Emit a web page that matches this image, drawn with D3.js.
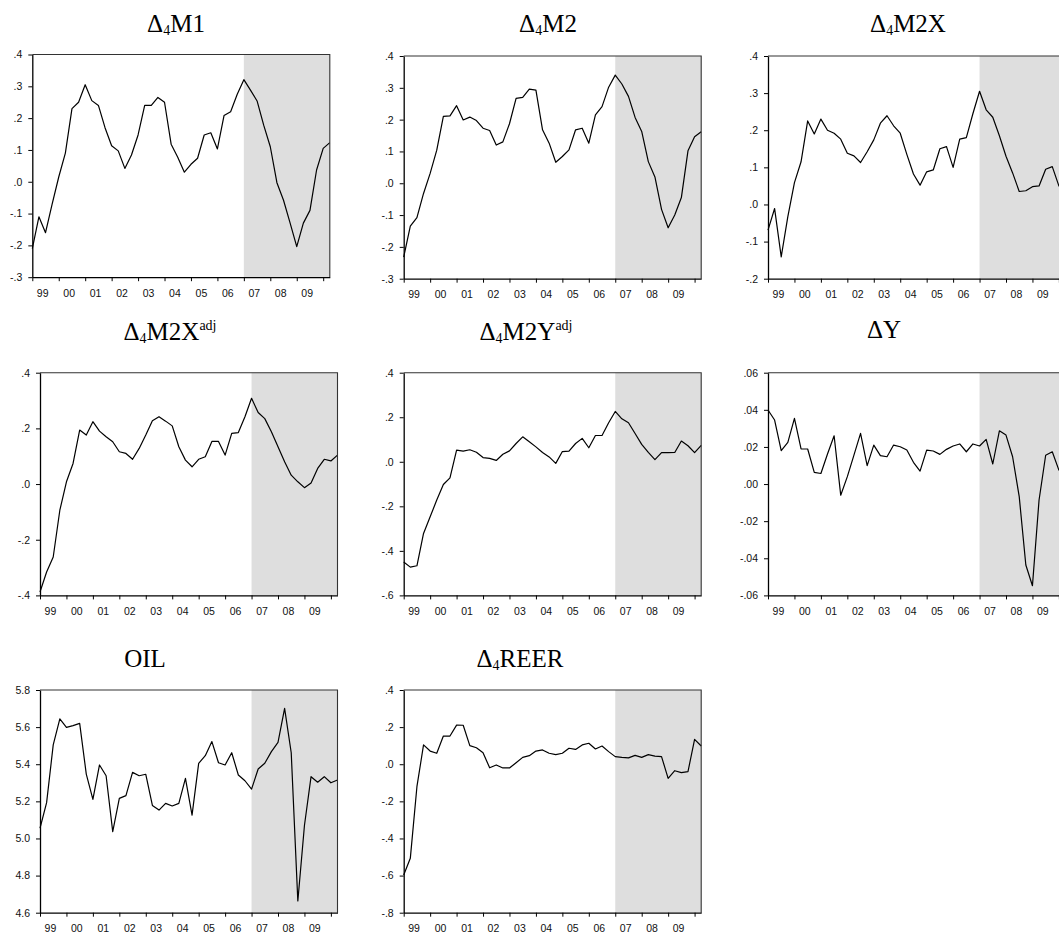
<!DOCTYPE html>
<html>
<head>
<meta charset="utf-8">
<script src="https://cdn.jsdelivr.net/npm/d3@7"></script>
<style>
  body { margin: 0; background: #fff; }
  svg { display: block; }
  .tick text { font-family: "Liberation Sans", Arial, sans-serif; font-size: 10.5px; fill: #111; }
  .title { font-family: "Liberation Serif", "Times New Roman", serif; font-size: 25px; fill: #000; }
</style>
</head>
<body>
<div id="viz"></div>
<script>
// quarterly sample, 1999Q1 - 2010Q2
const quarters = [
  '1999Q1', '1999Q2', '1999Q3', '1999Q4', '2000Q1', '2000Q2', '2000Q3', '2000Q4',
  '2001Q1', '2001Q2', '2001Q3', '2001Q4', '2002Q1', '2002Q2', '2002Q3', '2002Q4',
  '2003Q1', '2003Q2', '2003Q3', '2003Q4', '2004Q1', '2004Q2', '2004Q3', '2004Q4',
  '2005Q1', '2005Q2', '2005Q3', '2005Q4', '2006Q1', '2006Q2', '2006Q3', '2006Q4',
  '2007Q1', '2007Q2', '2007Q3', '2007Q4', '2008Q1', '2008Q2', '2008Q3', '2008Q4',
  '2009Q1', '2009Q2', '2009Q3', '2009Q4', '2010Q1', '2010Q2'
];
const shadeFrom = '2007Q1';
const yearLabels = ['99', '00', '01', '02', '03', '04', '05', '06', '07', '08', '09'];

const m1 = [-0.21, -0.11, -0.16, -0.07, 0.015, 0.09, 0.23, 0.25, 0.305, 0.255, 0.24, 0.17,
  0.113, 0.097, 0.042, 0.084, 0.147, 0.24, 0.24, 0.265, 0.25, 0.118, 0.077, 0.03,
  0.055, 0.074, 0.147, 0.154, 0.103, 0.208, 0.22, 0.275, 0.321, 0.288, 0.254, 0.178,
  0.11, -0.003, -0.058, -0.13, -0.204, -0.13, -0.09, 0.037, 0.105, 0.123];
const m2 = [-0.232, -0.135, -0.108, -0.032, 0.031, 0.104, 0.21, 0.212, 0.244, 0.199, 0.208, 0.197,
  0.173, 0.166, 0.12, 0.13, 0.187, 0.267, 0.27, 0.296, 0.293, 0.168, 0.126, 0.066,
  0.084, 0.105, 0.168, 0.173, 0.126, 0.215, 0.241, 0.302, 0.34, 0.312, 0.273, 0.207,
  0.163, 0.068, 0.02, -0.082, -0.14, -0.1, -0.045, 0.102, 0.146, 0.162];
const m2x = [-0.069, -0.011, -0.141, -0.033, 0.059, 0.115, 0.225, 0.19, 0.23, 0.2, 0.192, 0.176,
  0.138, 0.131, 0.113, 0.142, 0.174, 0.219, 0.239, 0.212, 0.192, 0.135, 0.082, 0.052,
  0.088, 0.093, 0.15, 0.156, 0.1, 0.176, 0.18, 0.245, 0.305, 0.255, 0.235, 0.185,
  0.13, 0.085, 0.035, 0.037, 0.048, 0.05, 0.095, 0.102, 0.05, 0.04];
const m2xAdj = [-0.388, -0.316, -0.262, -0.094, 0.008, 0.074, 0.194, 0.176, 0.224, 0.19, 0.17, 0.152,
  0.116, 0.11, 0.089, 0.128, 0.176, 0.227, 0.242, 0.226, 0.209, 0.134, 0.086, 0.062,
  0.089, 0.098, 0.153, 0.153, 0.104, 0.182, 0.185, 0.242, 0.308, 0.257, 0.235, 0.188,
  0.134, 0.08, 0.032, 0.008, -0.013, 0.004, 0.056, 0.089, 0.083, 0.104];
const m2yAdj = [-0.45, -0.473, -0.467, -0.322, -0.247, -0.172, -0.102, -0.072, 0.052, 0.048, 0.054, 0.043,
  0.019, 0.015, 0.006, 0.034, 0.049, 0.082, 0.112, 0.09, 0.067, 0.042, 0.022, -0.007,
  0.046, 0.048, 0.082, 0.105, 0.063, 0.118, 0.118, 0.175, 0.226, 0.193, 0.175, 0.127,
  0.078, 0.042, 0.01, 0.041, 0.041, 0.042, 0.093, 0.072, 0.041, 0.074];
const dy = [0.0399, 0.0345, 0.018, 0.0225, 0.0354, 0.0189, 0.0189, 0.0063, 0.0057, 0.0162, 0.026, -0.006,
  0.004, 0.0156, 0.0273, 0.0099, 0.021, 0.0153, 0.0147, 0.021, 0.0201, 0.0183, 0.0117, 0.007,
  0.0183, 0.0178, 0.016, 0.0187, 0.0205, 0.0216, 0.0174, 0.0216, 0.0205, 0.0241, 0.0108, 0.0287,
  0.0264, 0.0147, -0.0068, -0.0436, -0.0548, -0.0086, 0.0155, 0.0174, 0.0075, 0.01];
const oil = [5.055, 5.193, 5.504, 5.644, 5.599, 5.608, 5.62, 5.347, 5.211, 5.396, 5.338, 5.037,
  5.216, 5.231, 5.356, 5.338, 5.346, 5.178, 5.153, 5.189, 5.175, 5.189, 5.324, 5.126,
  5.405, 5.446, 5.522, 5.408, 5.396, 5.462, 5.342, 5.311, 5.266, 5.374, 5.405, 5.468,
  5.518, 5.701, 5.462, 4.663, 5.07, 5.333, 5.303, 5.333, 5.3, 5.315];
const reer = [-0.597, -0.507, -0.121, 0.104, 0.071, 0.059, 0.152, 0.152, 0.211, 0.21, 0.1, 0.089,
  0.062, -0.019, -0.004, -0.02, -0.02, 0.008, 0.037, 0.046, 0.071, 0.077, 0.059, 0.052,
  0.059, 0.086, 0.08, 0.104, 0.113, 0.082, 0.098, 0.068, 0.041, 0.037, 0.034, 0.048,
  0.037, 0.052, 0.044, 0.041, -0.076, -0.035, -0.045, -0.04, 0.134, 0.098];

// what each small graph shows
const series = [
  { delta: '4', name: 'M1', sup: '', values: m1, domain: [-0.3, 0.4], step: 0.1, fmt: '.1f' },
  { delta: '4', name: 'M2', sup: '', values: m2, domain: [-0.3, 0.4], step: 0.1, fmt: '.1f' },
  { delta: '4', name: 'M2X', sup: '', values: m2x, domain: [-0.2, 0.4], step: 0.1, fmt: '.1f' },
  { delta: '4', name: 'M2X', sup: 'adj', values: m2xAdj, domain: [-0.4, 0.4], step: 0.2, fmt: '.1f' },
  { delta: '4', name: 'M2Y', sup: 'adj', values: m2yAdj, domain: [-0.6, 0.4], step: 0.2, fmt: '.1f' },
  { delta: '', name: 'Y', sup: '', values: dy, domain: [-0.06, 0.06], step: 0.02, fmt: '.2f' },
  { delta: null, name: 'OIL', sup: '', values: oil, domain: [4.6, 5.8], step: 0.2, fmt: '.1f', keepZero: true },
  { delta: '4', name: 'REER', sup: '', values: reer, domain: [-0.8, 0.4], step: 0.2, fmt: '.1f' }
];

// where each graph sits on the page
const W = 297.5;
const H = 222.7;
const boxes = [
  { left: 32.3, top: 54.5, titleX: 176, titleY: 32 },
  { left: 403.7, top: 56, titleX: 548, titleY: 32 },
  { left: 768, top: 56, titleX: 908, titleY: 32 },
  { left: 40, top: 372.7, titleX: 170, titleY: 340 },
  { left: 403.7, top: 372.7, titleX: 526, titleY: 340 },
  { left: 768, top: 372.7, titleX: 884, titleY: 338 },
  { left: 40, top: 690, titleX: 145, titleY: 667 },
  { left: 403.7, top: 690, titleX: 520, titleY: 667 }
];

const locale = d3.formatLocale({ decimal: '.', thousands: ',', grouping: [3], currency: ['', ''], minus: '-' });

const makeFormat = (s) => {
  const f = locale.format(s.fmt);
  return s.keepZero ? f : (v) => f(v).replace(/^(-?)0\./, '$1.');
};

const drawTitle = (svg, s, box) => {
  const t = svg.append('text')
    .attr('class', 'title')
    .attr('x', box.titleX)
    .attr('y', box.titleY)
    .attr('text-anchor', 'middle');
  if (s.delta !== null) t.append('tspan').text('\u0394');
  if (s.delta) {
    t.append('tspan').attr('font-size', '14px').attr('dy', 3).text(s.delta);
    t.append('tspan').attr('dy', -3).text(s.name);
  } else {
    t.append('tspan').text(s.name);
  }
  if (s.sup) t.append('tspan').attr('font-size', '14px').attr('dy', -10).text(s.sup);
};

const drawPanel = (svg, s, box) => {
  const g = svg.append('g').attr('transform', `translate(${box.left},${box.top})`);

  const x = d3.scalePoint().domain(quarters).range([0, W]);
  const y = d3.scaleLinear().domain(s.domain).range([H, 0]);

  g.append('rect')
    .attr('x', x(shadeFrom))
    .attr('y', 0)
    .attr('width', W - x(shadeFrom))
    .attr('height', H)
    .attr('fill', '#dedede');

  const line = d3.line()
    .x((d, i) => x(quarters[i]))
    .y(d => y(d));

  g.append('path')
    .datum(s.values)
    .attr('fill', 'none')
    .attr('stroke', '#000')
    .attr('stroke-width', 1.2)
    .attr('stroke-linejoin', 'round')
    .attr('d', line);

  // frame: top and right thinner
  g.append('path')
    .attr('d', `M0,0H${W}V${H}`)
    .attr('fill', 'none')
    .attr('stroke', '#333')
    .attr('stroke-width', 1.1);

  const n = Math.round((s.domain[1] - s.domain[0]) / s.step);
  const yTicks = d3.range(n + 1).map(k => +(s.domain[0] + k * s.step).toFixed(6) || 0);

  const yAxis = g.append('g')
    .call(d3.axisLeft(y).tickValues(yTicks).tickSize(4).tickSizeOuter(0).tickPadding(6).tickFormat(makeFormat(s)));

  const yearStarts = quarters.filter(q => q.endsWith('Q1'));
  const xAxis = g.append('g')
    .attr('transform', `translate(0,${H})`)
    .call(d3.axisBottom(x).tickValues(yearStarts).tickSize(4).tickSizeOuter(0).tickFormat(''));

  // year labels sit in the middle of each year's four quarters
  const labelAt = yearLabels.map((lab, i) => quarters[i * 4 + 1]);
  g.append('g')
    .attr('transform', `translate(${x.step() / 2},${H})`)
    .call(d3.axisBottom(x).tickValues(labelAt).tickSize(0).tickPadding(12)
      .tickFormat((q, i) => yearLabels[i]))
    .call(a => a.select('.domain').remove());

  [yAxis, xAxis].forEach(a => {
    a.select('.domain').attr('stroke', '#000').attr('stroke-width', 1.3);
    a.selectAll('.tick line').attr('stroke', '#000');
  });

  drawTitle(svg, s, box);
};

const svg = d3.select('#viz')
  .append('svg')
  .attr('width', 1059)
  .attr('height', 934);

series.forEach((s, i) => drawPanel(svg, s, boxes[i]));
</script>
</body>
</html>
